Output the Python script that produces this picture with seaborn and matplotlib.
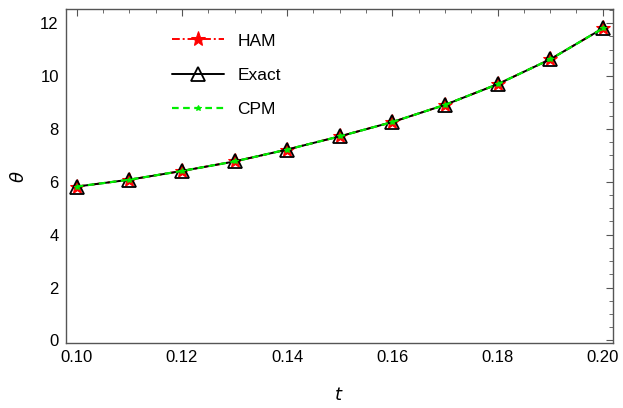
import numpy as np
import pandas as pd
import matplotlib
matplotlib.use("Agg")
import matplotlib.pyplot as plt
from matplotlib.ticker import MultipleLocator
import seaborn as sns

# data
t = [0.10, 0.11, 0.12, 0.13, 0.14, 0.15, 0.16, 0.17, 0.18, 0.19, 0.20]
theta_ham = [5.82, 6.08, 6.41, 6.77, 7.22, 7.72, 8.26, 8.91, 9.69, 10.63, 11.80]
theta_exact = [5.82, 6.08, 6.41, 6.77, 7.22, 7.72, 8.26, 8.91, 9.69, 10.63, 11.80]
theta_cpm = [5.82, 6.08, 6.41, 6.77, 7.22, 7.72, 8.26, 8.91, 9.69, 10.63, 11.80]

sns.set_style("white")
plt.rcParams['font.family'] = ['Liberation Sans', 'DejaVu Sans']
plt.rcParams['text.color'] = 'black'
plt.rcParams['axes.labelcolor'] = 'black'

df = pd.DataFrame({"t": t, "HAM": theta_ham, "Exact": theta_exact, "CPM": theta_cpm})

fig = plt.figure(figsize=(6.23, 4.08), dpi=100)
ax = fig.add_axes([0.1055, 0.159, 0.878, 0.818])

sns.lineplot(data=df, x="t", y="HAM", ax=ax, color="red", linestyle=(0, (4, 1.5, 1, 1.5)),
             marker="*", markersize=11, markeredgecolor="red", lw=1.4, label="HAM")
sns.lineplot(data=df, x="t", y="Exact", ax=ax, color="black", linestyle="-",
             marker="^", markersize=10, markerfacecolor="none", markeredgecolor="black",
             markeredgewidth=1.3, lw=1.4, label="Exact")
sns.lineplot(data=df, x="t", y="CPM", ax=ax, color="#00ee00", linestyle=(0, (3, 2)),
             marker="*", markersize=4, markeredgecolor="#00ee00", lw=1.6, label="CPM")

ax.set_xlim(0.0979, 0.2019)
ax.set_ylim(-0.1, 12.52)
ax.xaxis.set_major_locator(MultipleLocator(0.02))
ax.xaxis.set_minor_locator(MultipleLocator(0.005))
ax.yaxis.set_major_locator(MultipleLocator(2))
ax.yaxis.set_minor_locator(MultipleLocator(0.5))
ax.xaxis.set_major_formatter(matplotlib.ticker.FormatStrFormatter("%.2f"))
ax.tick_params(which="both", direction="in", top=True, right=True, color="#555555",
               labelcolor="black", labelsize=12, pad=5)
ax.tick_params(which="major", length=5)
ax.tick_params(which="minor", length=3)
for s in ax.spines.values():
    s.set_color("#555555")
    s.set_linewidth(1.0)

ax.set_xlabel("$t$", fontsize=13, labelpad=16)
ax.set_ylabel(r"$\theta$", fontsize=13, labelpad=9)

ax.legend(loc="upper left", bbox_to_anchor=(0.165, 0.975), frameon=False, fontsize=12.5,
          handlelength=3.0, labelspacing=1.1, handletextpad=0.8)

fig.savefig("out.png", dpi=100)
